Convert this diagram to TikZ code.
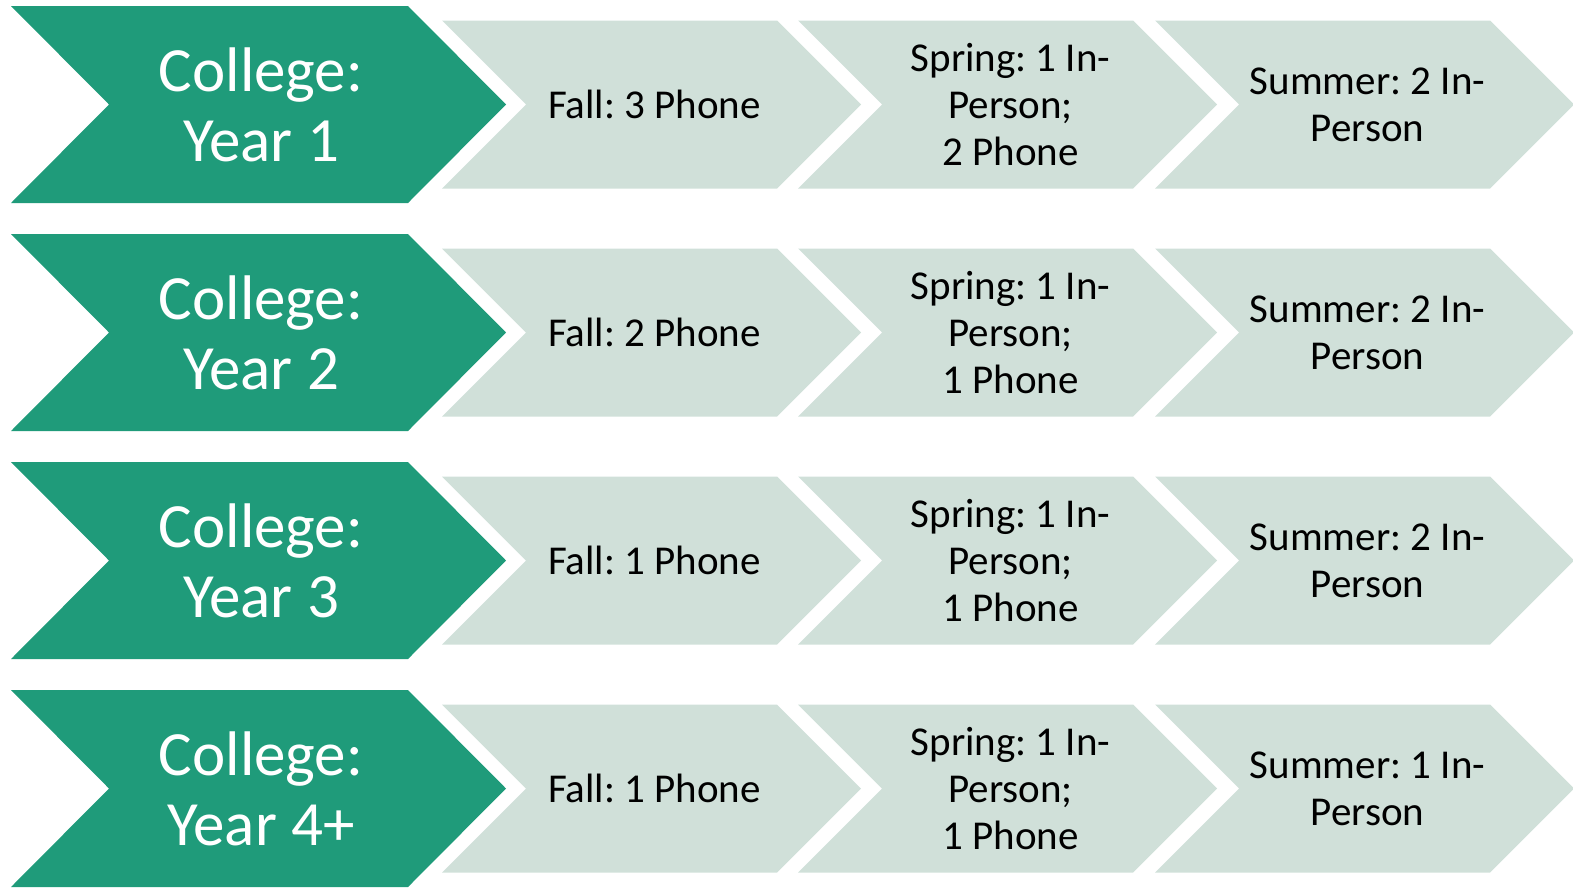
\documentclass[tikz,border=0pt]{standalone}
\usepackage{fontspec}
\setmainfont{Carlito}
\usepackage{tikz}
\usetikzlibrary{calc,positioning}
\frenchspacing
\definecolor{yeargreen}{HTML}{1F9B7A}
\definecolor{termgreen}{HTML}{D0E0D9}
\tikzset{yeartxt/.style={text=white,align=center,inner sep=0pt,
                         font=\fontsize{63}{70}\selectfont},
         termtxt/.style={text=black,align=center,inner sep=0pt,
                         font=\fontsize{41}{47}\selectfont}}
% big chevron: name, centre y, text
\newcommand{\yearchev}[3]{
  \fill[yeargreen] (11,#2-98.5) -- ++(397,0) -- ++(98,98.5) -- ++(-98,98.5)
        -- ++(-397,0) -- ++(98,-98.5) -- cycle;
  \node[yeartxt] (#1) at (261,#2) {#3};
}
% small chevron: name, left x, centre y, text
\newcommand{\termchev}[4]{
  \fill[termgreen] (#2,#3-84) -- ++(335,0) -- ++(84,84) -- ++(-84,84)
        -- ++(-335,0) -- ++(84,-84) -- cycle;
  \node[termtxt] (#1) at (#2+212.5,#3) {#4};
}

\begin{document}
\begin{tikzpicture}[x=1pt,y=-1pt]
		\useasboundingbox (0,0) rectangle (1573,887);

		\yearchev{year1}{104.5}{College:\\Year 1}
		\termchev{fall1}{442}{104.5}{Fall: 3 Phone}
		\termchev{spring1}{798}{104.5}{Spring: 1 In-\\Person;\\2 Phone}
		\termchev{summer1}{1155}{104.5}{Summer: 2 In-\\Person}

		\yearchev{year2}{332.5}{College:\\Year 2}
		\termchev{fall2}{442}{332.5}{Fall: 2 Phone}
		\termchev{spring2}{798}{332.5}{Spring: 1 In-\\Person;\\1 Phone}
		\termchev{summer2}{1155}{332.5}{Summer: 2 In-\\Person}

		\yearchev{year3}{560.5}{College:\\Year 3}
		\termchev{fall3}{442}{560.5}{Fall: 1 Phone}
		\termchev{spring3}{798}{560.5}{Spring: 1 In-\\Person;\\1 Phone}
		\termchev{summer3}{1155}{560.5}{Summer: 2 In-\\Person}

		\yearchev{year4}{788.5}{College:\\Year 4+}
		\termchev{fall4}{442}{788.5}{Fall: 1 Phone}
		\termchev{spring4}{798}{788.5}{Spring: 1 In-\\Person;\\1 Phone}
		\termchev{summer4}{1155}{788.5}{Summer: 1 In-\\Person}
	\end{tikzpicture}
\end{document}
